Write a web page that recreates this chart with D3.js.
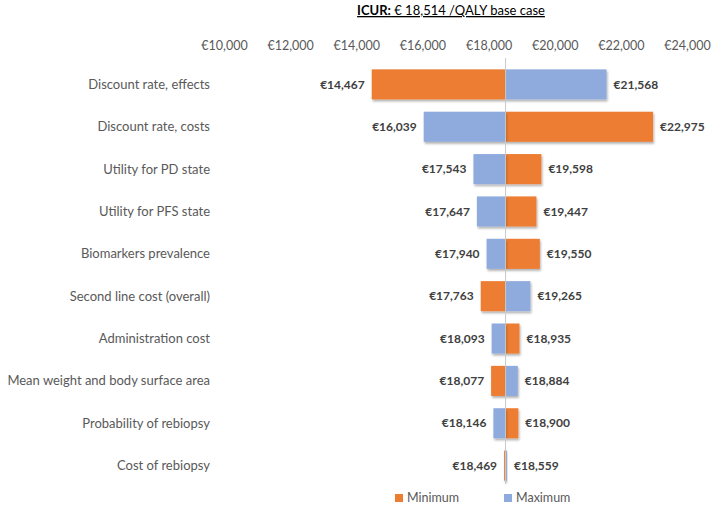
<!DOCTYPE html>
<html>
<head>
<meta charset="utf-8">
<script src="https://cdn.jsdelivr.net/npm/d3@7"></script>
<style>
  body { margin: 0; background: #fff; }
  svg { font-family: Lato, "Open Sans", sans-serif; }
</style>
</head>
<body>
<svg id="chart" width="712" height="506"></svg>
<script>
// data
var parameters = [
  "Discount rate, effects",
  "Discount rate, costs",
  "Utility for PD state",
  "Utility for PFS state",
  "Biomarkers prevalence",
  "Second line cost (overall)",
  "Administration cost",
  "Mean weight and body surface area",
  "Probability of rebiopsy",
  "Cost of rebiopsy"
];
var minValues = [14467, 22975, 19598, 19447, 19550, 17763, 18935, 18077, 18900, 18469];
var maxValues = [21568, 16039, 17543, 17647, 17940, 19265, 18093, 18884, 18146, 18559];
var baseCase = 18514;
var xTicks = [10000, 12000, 14000, 16000, 18000, 20000, 22000, 24000];
var seriesNames = ["Minimum", "Maximum"];

var orange = "#ED7D31", blue = "#8FAADC";

var svg = d3.select("#chart");

var x = d3.scaleLinear().domain([10000, 24000]).range([224, 687]);
var y = d3.scaleBand().domain(parameters).range([63, 487]).paddingInner(0.29).paddingOuter(0.15);

var euro = d => "€" + d3.format(",")(d);

// shadow for bars
var defs = svg.append("defs");
var f = defs.append("filter").attr("id", "shadow").attr("x", "-20%").attr("y", "-20%").attr("width", "150%").attr("height", "150%");
f.append("feDropShadow").attr("dx", 1).attr("dy", 2).attr("stdDeviation", 1.2)
  .attr("flood-color", "#000").attr("flood-opacity", 0.3);

// title
var title = svg.append("text")
  .attr("x", 451).attr("y", 15)
  .attr("text-anchor", "middle")
  .attr("font-size", 13).attr("fill", "#000")
  .attr("text-decoration", "underline");
title.append("tspan").attr("font-weight", "bold").text("ICUR:");
title.append("tspan").text(" € 18,514 /QALY base case");

// top axis
var axis = d3.axisTop(x).tickValues(xTicks).tickFormat(euro).tickSize(0).tickPadding(0);
var ax = svg.append("g").attr("transform", "translate(0,50)").call(axis);
ax.select(".domain").remove();
ax.selectAll("text").attr("font-size", 12.5).attr("fill", "#595959").attr("font-family", "Lato, sans-serif");

// rows
var rows = parameters.map((p, i) => ({ name: p, min: minValues[i], max: maxValues[i] }));

var row = svg.append("g").selectAll("g").data(rows).join("g")
  .attr("transform", d => "translate(0," + y(d.name) + ")");

row.append("text")
  .attr("x", 210).attr("y", y.bandwidth() / 2).attr("dy", "0.35em")
  .attr("text-anchor", "end").attr("font-size", 13).attr("fill", "#595959")
  .text(d => d.name);

[["min", orange], ["max", blue]].forEach(function (s) {
  var key = s[0];
  row.append("rect")
    .attr("x", d => Math.min(x(d[key]), x(baseCase)))
    .attr("width", d => Math.max(Math.abs(x(d[key]) - x(baseCase)), 1))
    .attr("y", 0).attr("height", y.bandwidth())
    .attr("fill", s[1])
    .attr("filter", "url(#shadow)");

  row.append("text")
    .attr("x", d => d[key] < baseCase ? x(d[key]) - 7 : x(d[key]) + 7)
    .attr("y", y.bandwidth() / 2).attr("dy", "0.35em")
    .attr("text-anchor", d => d[key] < baseCase ? "end" : "start")
    .attr("font-size", 12).attr("font-weight", "bold").attr("fill", "#404040")
    .text(d => euro(d[key]));
});

// base case line
svg.append("line")
  .attr("x1", x(baseCase)).attr("x2", x(baseCase))
  .attr("y1", 58).attr("y2", 484)
  .attr("stroke", "#c8c8c8").attr("stroke-width", 1);

// legend
var legend = svg.append("g").selectAll("g").data(seriesNames).join("g")
  .attr("transform", (d, i) => "translate(" + (395 + i * 109) + ",494)");
legend.append("rect").attr("width", 8).attr("height", 8).attr("fill", (d, i) => i ? blue : orange);
legend.append("text").attr("x", 12).attr("y", 4).attr("dy", "0.35em")
  .attr("font-size", 12.5).attr("fill", "#595959").text(d => d);
</script>
</body>
</html>
